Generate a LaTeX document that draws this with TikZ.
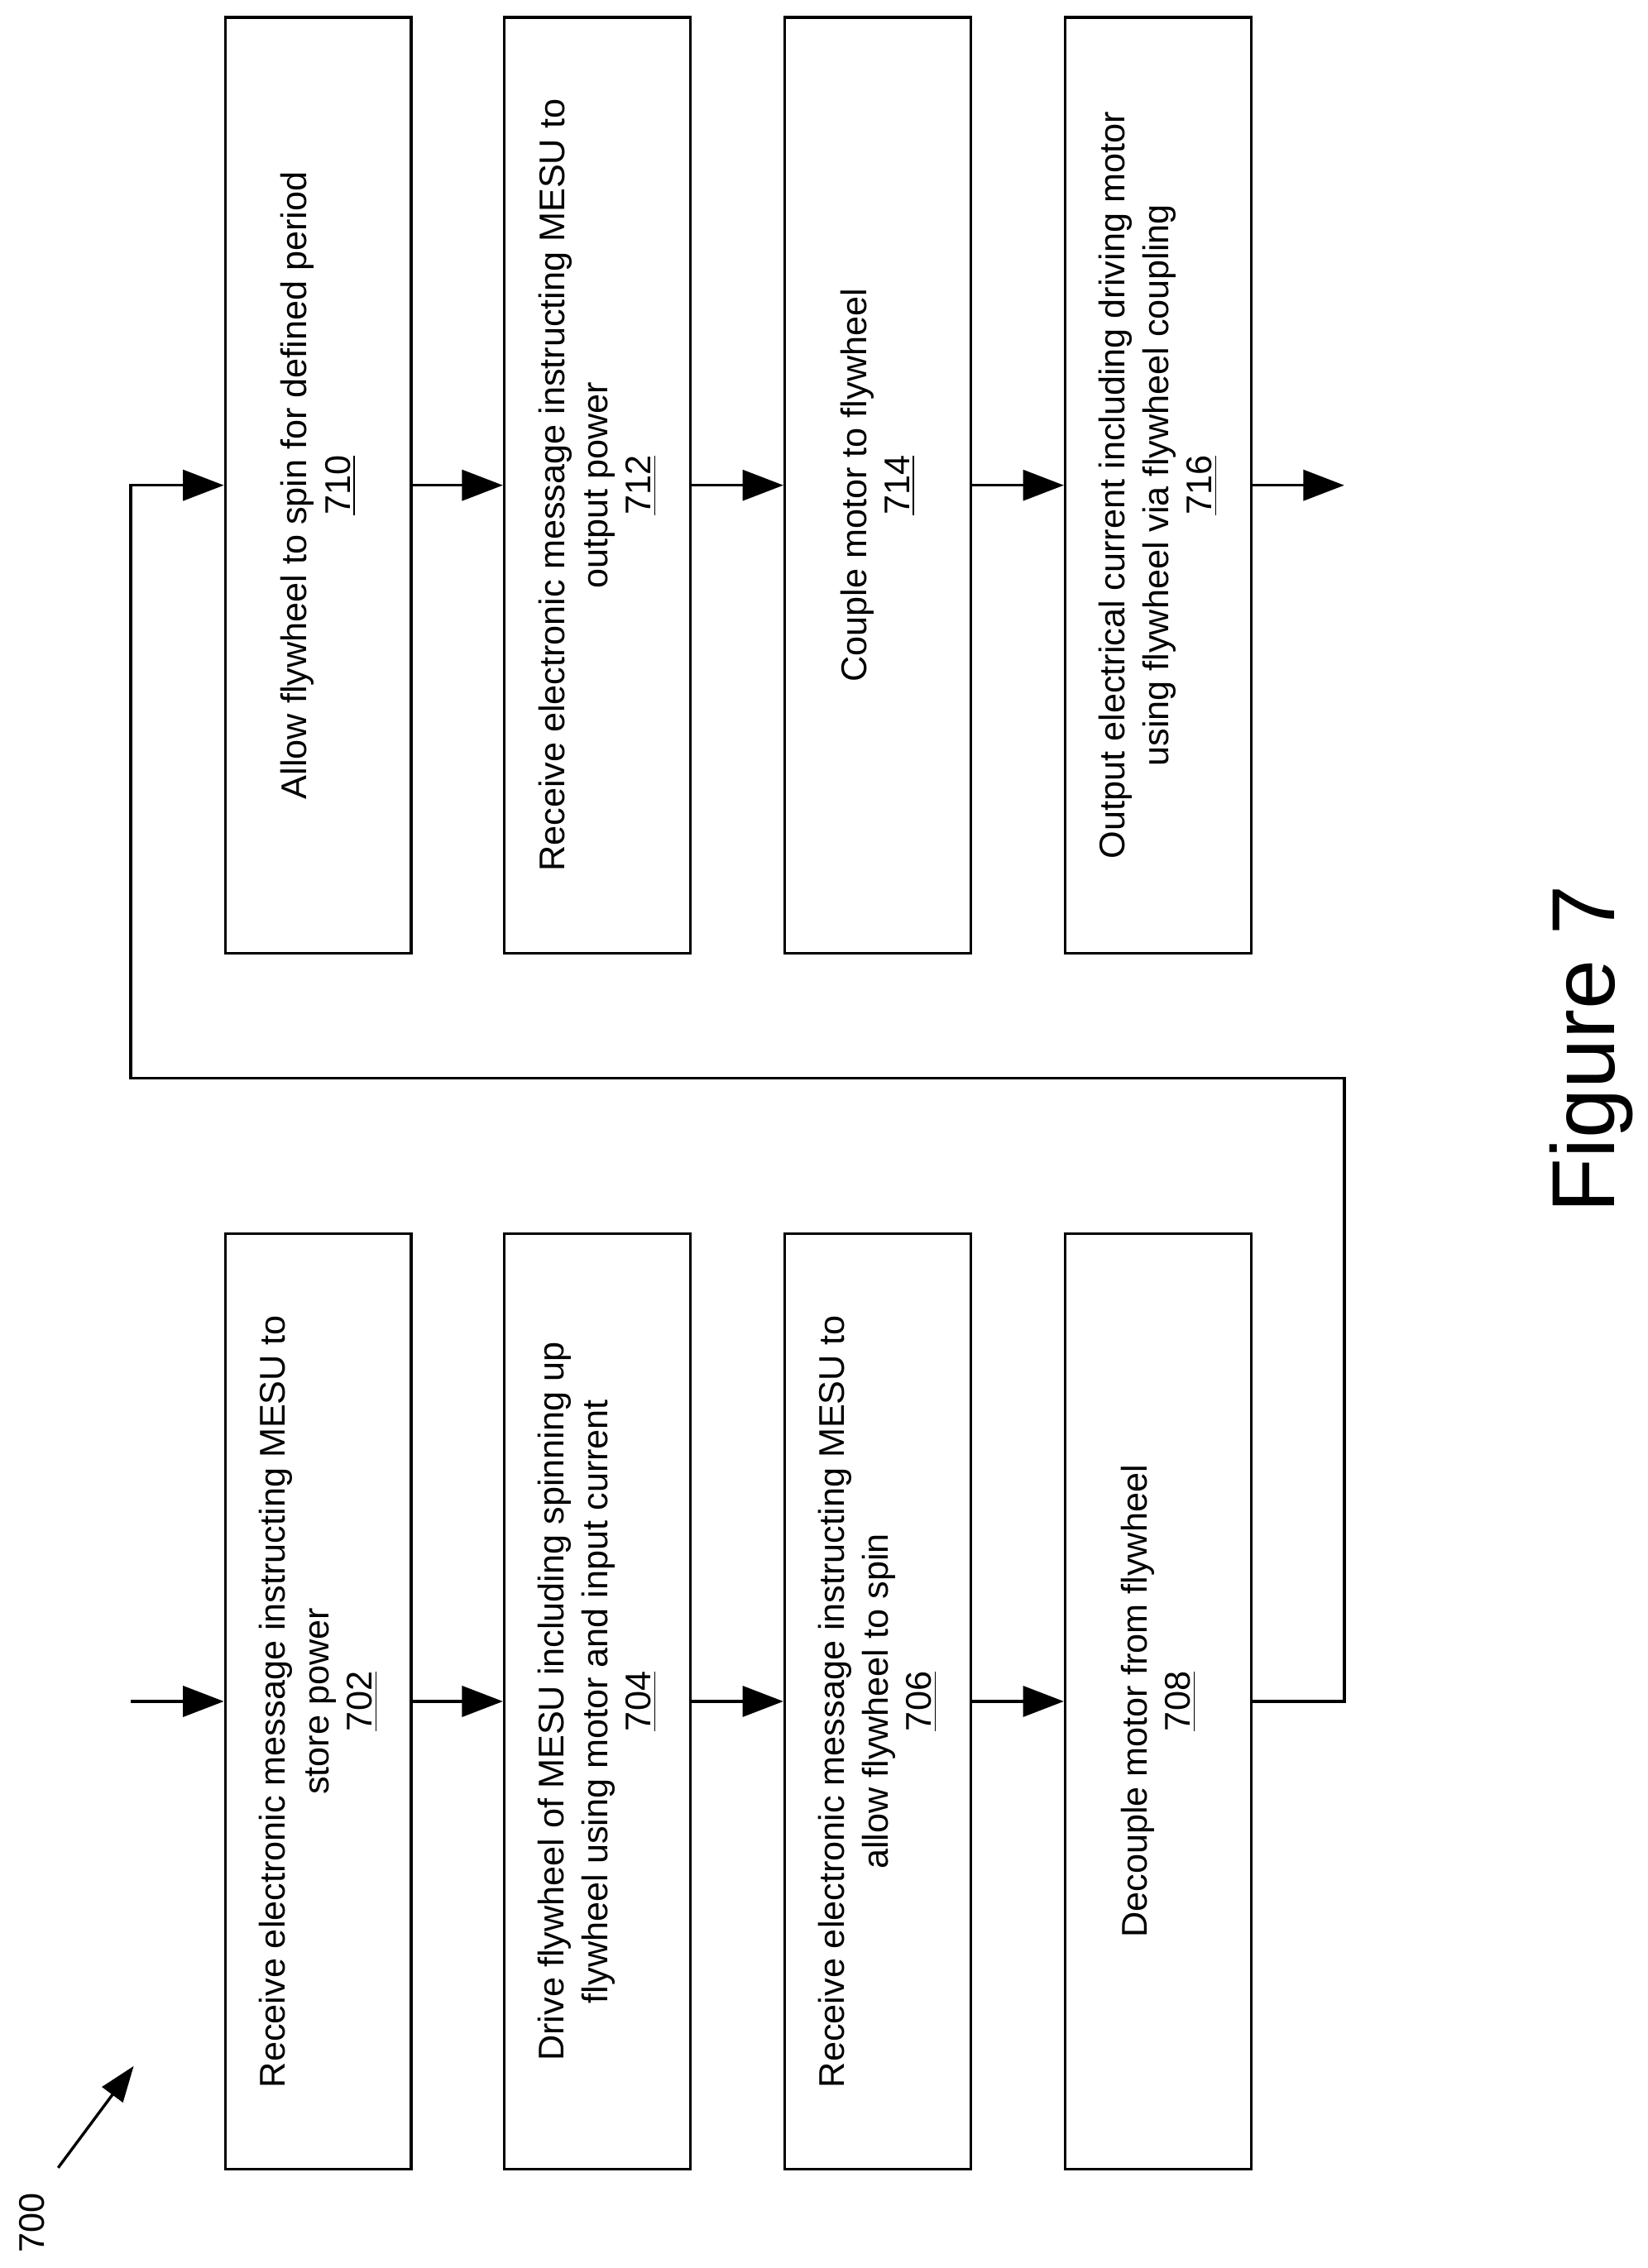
\documentclass[tikz,border=0pt]{standalone}
\usepackage{fontspec}
\setmainfont{Liberation Sans}
\usetikzlibrary{arrows.meta}
\begin{document}
\begin{tikzpicture}[
    x=0.02cm, y=-0.02cm,
    line width=1.1pt,
    stepbox/.style={
        draw,
        rotate=90,
        minimum width=12.88cm,
        minimum height=2.56cm,
        align=center,
        inner sep=4pt,
        font=\fontsize{14}{17}\selectfont},
    flow/.style={-{Triangle[length=16pt,width=12pt]}}]
    \useasboundingbox (0,0) rectangle (1134,1561);

    \node[stepbox] (A) at (219,1171) {Receive electronic message instructing MESU to\\store power\\\underline{702}};
    \node[stepbox] (B) at (411,1171) {Drive flywheel of MESU including spinning up\\flywheel using motor and input current\\\underline{704}};
    \node[stepbox] (C) at (604,1171) {Receive electronic message instructing MESU to\\allow flywheel to spin\\\underline{706}};
    \node[stepbox] (D) at (797,1171) {Decouple motor from flywheel\\\underline{708}};

    \node[stepbox] (E) at (219,334) {Allow flywheel to spin for defined period\\\underline{710}};
    \node[stepbox] (F) at (411,334) {Receive electronic message instructing MESU to\\output power\\\underline{712}};
    \node[stepbox] (G) at (604,334) {Couple motor to flywheel\\\underline{714}};
    \node[stepbox] (H) at (797,334) {Output electrical current including driving motor\\using flywheel via flywheel coupling\\\underline{716}};

    \coordinate (in) at (90,1171);
    \coordinate (out) at (925,334);
    \coordinate (r1) at (925,1171);
    \coordinate (r2) at (925,742);
    \coordinate (l1) at (90,742);
    \coordinate (l2) at (90,334);

    \draw[flow] (in) -- (A);
    \draw[flow] (A) -- (B);
    \draw[flow] (B) -- (C);
    \draw[flow] (C) -- (D);
    \draw[flow] (D) -- (r1) -- (r2) -- (l1) -- (l2) -- (E);
    \draw[flow] (E) -- (F);
    \draw[flow] (F) -- (G);
    \draw[flow] (G) -- (H);
    \draw[flow] (H) -- (out);

    \node[rotate=90, font=\fontsize{14}{17}\selectfont] (lbl) at (22,1530) {700};
    \coordinate (p0) at (40,1492);
    \coordinate (p1) at (92,1422);
    \draw[-{Triangle[length=14pt,width=10pt]}] (p0) -- (p1);

    \node[rotate=90, font=\fontsize{35}{40}\selectfont] (fig) at (1095,722) {Figure 7};
\end{tikzpicture}
\end{document}
